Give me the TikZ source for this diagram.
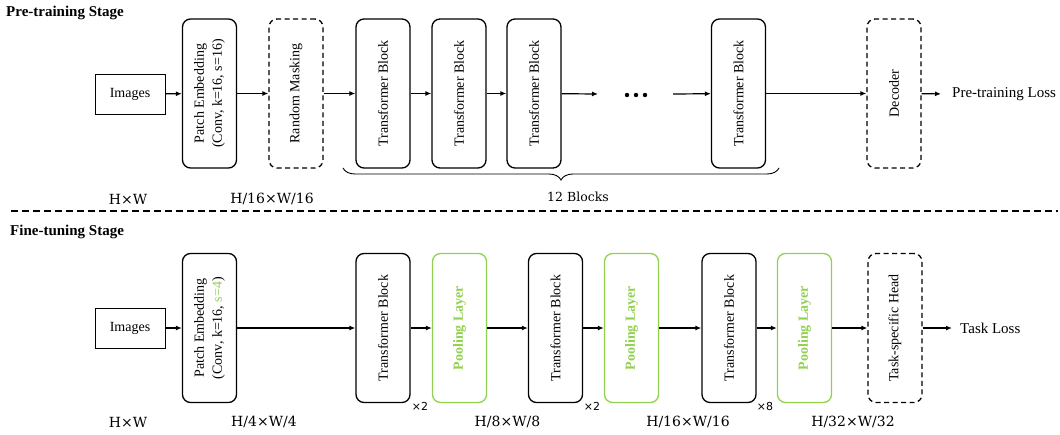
\documentclass[tikz,border=0pt]{standalone}
\usepackage{fontspec}
\setmainfont{Liberation Serif}
\newfontfamily\dvs{DejaVu Sans}
\newfontfamily\dvserif{DejaVu Serif}
\usepackage{graphicx}
\usetikzlibrary{arrows.meta,decorations.pathreplacing}
\definecolor{lgreen}{RGB}{146,208,80}
\newcommand{\pestack}[2]{\rotatebox{90}{\begin{tabular}{@{}c@{}}#1\\[1pt]#2\end{tabular}}}
\begin{document}
\begin{tikzpicture}[x=1pt,y=-1pt,
 every node/.style={font=\fontsize{14}{17}\selectfont},
 blk/.style={draw,line width=1.3pt,rounded corners=8pt,minimum width=54pt,minimum height=149pt,inner sep=0pt},
 dblk/.style={blk,dash pattern=on 5pt off 3.5pt},
 gblk/.style={blk,draw=lgreen,text=lgreen,font=\fontsize{14}{17}\selectfont\bfseries},
 sq/.style={draw,line width=1pt,minimum width=70pt,minimum height=40pt,inner sep=0pt},
 arr/.style={-{Latex[length=6pt,width=5pt]},line width=1.2pt},
 dimlbl/.style={font=\dvserif\fontsize{14}{17}\selectfont},
 times/.style={font=\dvs\fontsize{11}{13}\selectfont},
 ttl/.style={font=\fontsize{15}{18}\selectfont\bfseries,anchor=west,inner sep=0pt},
 loss/.style={font=\fontsize{15}{18}\selectfont,anchor=west,inner sep=0pt},
]
\useasboundingbox (0,0) rectangle (1060,434);

% ---------- Pre-training ----------
\node[ttl] (t1) at (6,13) {Pre-training Stage};
\node[sq] (img1) at (130,94) {Images};
\node[blk] (pe1) at (209.5,93.5) {\pestack{Patch Embedding}{(Conv, k=16, s=16)}};
\node[dblk] (rm) at (296,93.5) {\rotatebox{90}{Random Masking}};
\node[blk] (tb1) at (383,93.5) {\rotatebox{90}{Transformer Block}};
\node[blk] (tb2) at (459,93.5) {\rotatebox{90}{Transformer Block}};
\node[blk] (tb3) at (534,93.5) {\rotatebox{90}{Transformer Block}};
\node[blk] (tb4) at (738.5,93.5) {\rotatebox{90}{Transformer Block}};
\node[dblk] (dec) at (894,93.5) {\rotatebox{90}{Decoder}};
\node[loss] (l1) at (952,94) {Pre-training Loss};
\coordinate (d1) at (598,94);
\coordinate (d2) at (673,94);
\fill (627,95) circle (2.2pt) (636,95) circle (2.2pt) (645,95) circle (2.2pt);

\draw[arr] (img1) -- (pe1);
\draw[arr] (pe1) -- (rm);
\draw[arr] (rm) -- (tb1);
\draw[arr] (tb1) -- (tb2);
\draw[arr] (tb2) -- (tb3);
\draw[arr] (tb3) -- (d1);
\draw[arr] (d2) -- (tb4);
\draw[arr] (tb4) -- (dec);
\draw[arr,shorten >=11pt] (dec) -- (l1.west);

\draw[line width=0.9pt,decorate,decoration={brace,mirror,amplitude=12pt}] (343,168) -- (779,168);
\node[font=\dvserif\fontsize{12.5}{15}\selectfont] (nb) at (578,197) {12 Blocks};
\node[dimlbl] (s1) at (128,199) {H×W};
\node[dimlbl] (s2) at (272,199) {H/16×W/16};

\draw[line width=1.1pt,dash pattern=on 7pt off 4pt] (11,211) -- (1058,211);

% ---------- Fine-tuning ----------
\node[ttl] (t2) at (10,232) {Fine-tuning Stage};
\node[sq] (img2) at (130,328) {Images};
\node[blk] (pe2) at (209.5,328) {\pestack{Patch Embedding}{(Conv, k=16, \textcolor{lgreen}{s=4})}};
\node[blk] (ta) at (383,328) {\rotatebox{90}{Transformer Block}};
\node[gblk] (pa) at (459.5,328) {\rotatebox{90}{Pooling Layer}};
\node[blk] (tb) at (555.5,328) {\rotatebox{90}{Transformer Block}};
\node[gblk] (pb) at (631.5,328) {\rotatebox{90}{Pooling Layer}};
\node[blk] (tc) at (729,328) {\rotatebox{90}{Transformer Block}};
\node[gblk] (pc) at (804.5,328) {\rotatebox{90}{Pooling Layer}};
\node[dblk] (head) at (895,328) {\rotatebox{90}{Task-specific Head}};
\node[loss] (l2) at (960,328) {Task Loss};

\draw[arr] (img2) -- (pe2);
\draw[arr] (pe2) -- (ta);
\draw[arr] (ta) -- (pa);
\draw[arr] (pa) -- (tb);
\draw[arr] (tb) -- (pb);
\draw[arr] (pb) -- (tc);
\draw[arr] (tc) -- (pc);
\draw[arr] (pc) -- (head);
\draw[arr,shorten >=8pt] (head) -- (l2.west);

\node[times] (x1) at (420,406) {×2};
\node[times] (x2) at (592,406) {×2};
\node[times] (x3) at (765,406) {×8};

\node[dimlbl] (u1) at (128,422) {H×W};
\node[dimlbl] (u2) at (264,422) {H/4×W/4};
\node[dimlbl] (u3) at (507.5,422) {H/8×W/8};
\node[dimlbl] (u4) at (688,422) {H/16×W/16};
\node[dimlbl] (u5) at (853,422) {H/32×W/32};
\end{tikzpicture}
\end{document}
